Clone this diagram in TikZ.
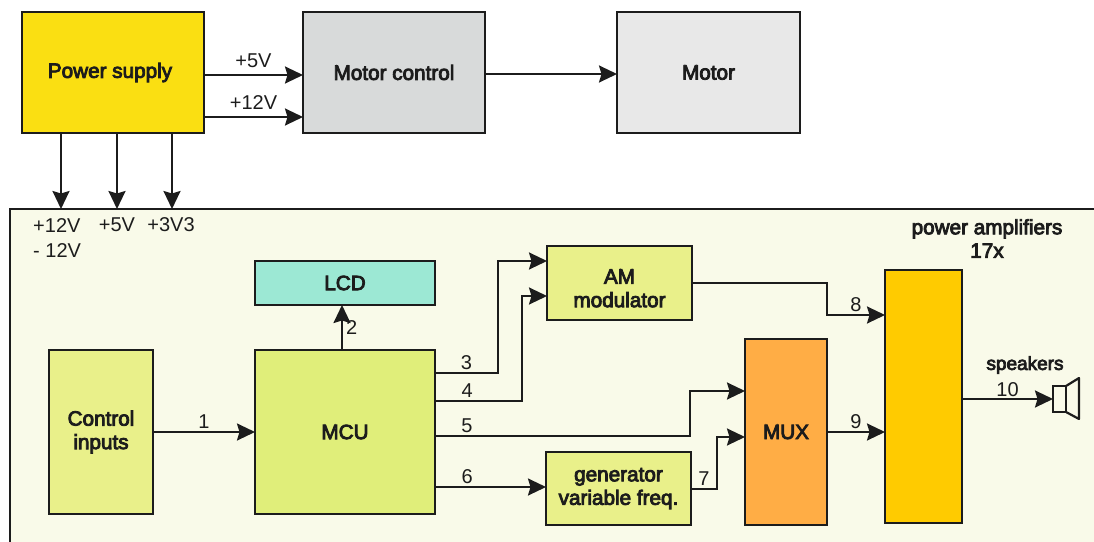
\documentclass[tikz,border=0pt]{standalone}
\usepackage{fontspec}
\setmainfont{Liberation Sans}
\newfontfamily\heavyfont[FakeBold=4]{Liberation Sans}
\usetikzlibrary{arrows.meta,positioning}

\definecolor{inkc}{HTML}{1C1C1C}
\definecolor{supplyc}{HTML}{FADF12}
\definecolor{drivec}{HTML}{D8DADA}
\definecolor{motorc}{HTML}{E8E8E8}
\definecolor{boardc}{HTML}{F9FAE9}
\definecolor{lcdc}{HTML}{9CE8D4}
\definecolor{limec}{HTML}{E9F08A}
\definecolor{mcuc}{HTML}{E0EE7A}
\definecolor{muxc}{HTML}{FFAD45}
\definecolor{ampc}{HTML}{FFCB00}

\begin{document}
\begin{tikzpicture}[
  x=1pt,y=-1pt,
  box/.style={
    draw=inkc,
    line width=2.4pt,
    align=center,
    text=inkc,
    inner sep=0pt,
    outer sep=0pt,
    font=\heavyfont\fontsize{20.7}{23.5}\selectfont
  },
  line/.style={-{Stealth[length=18pt,width=17pt,inset=2.5pt]},line width=2.2pt,draw=inkc},
  tag/.style={text=inkc,inner sep=2pt,font=\fontsize{20}{25}\selectfont},
  boldtag/.style={text=inkc,inner sep=0pt,align=center,font=\heavyfont\fontsize{20.7}{23.5}\selectfont}
]
\useasboundingbox (0,0) rectangle (1094,541);
\clip (0,0) rectangle (1094,541);

\node[box,fill=boardc,minimum width=1120pt,minimum height=370pt,anchor=north west] (board) at (10,209) {};

\node[box,fill=supplyc,minimum width=182pt,minimum height=121pt] (supply) at (113,72.5) {Power supply\hspace*{6pt}};
\node[box,fill=drivec,minimum width=182pt,minimum height=121pt,right=99pt of supply] (drive) {Motor control};
\node[box,fill=motorc,minimum width=183pt,minimum height=121pt,right=132pt of drive] (motor) {Motor};

\node[box,fill=limec,minimum width=104pt,minimum height=164pt] (inputs) at (101,432) {Control\\inputs};
\node[box,fill=mcuc,minimum width=180pt,minimum height=164pt,right=102pt of inputs] (mcu) {MCU};
\node[box,fill=lcdc,minimum width=180pt,minimum height=44pt] (lcd) at (345,283) {LCD};
\node[box,fill=limec,minimum width=145pt,minimum height=74pt] (am) at (619.5,283) {\rule{0pt}{25pt}AM\\modulator};
\node[box,fill=limec,minimum width=145pt,minimum height=73pt] (gen) at (618.5,488.5) {generator\\variable freq.};
\node[box,fill=muxc,minimum width=82pt,minimum height=186pt] (mux) at (786,432) {MUX};
\node[box,fill=ampc,minimum width=77pt,minimum height=253pt] (amp) at (923.5,396.5) {};

\node[tag,anchor=north west,align=left] (rails) at (31,216) {+12V\\- 12V};
\node[tag] (railb) at (117,225) {+5V};
\node[tag] (railc) at (171,225) {+3V3};
\node[boldtag] (amptitle) at (987,238.5) {power amplifiers\\17x};
\node[boldtag,font=\heavyfont\fontsize{19}{22}\selectfont] (spktitle) at (1025,365) {speakers};

% speaker
\node[draw=inkc,line width=2.2pt,minimum width=13pt,minimum height=26pt,inner sep=0pt,outer sep=0pt] (spk) at (1059.5,399) {};
\draw[inkc,line width=2.2pt,line join=round] (spk.north east) -- (1079,378) -- (1079,419) -- (spk.south east);

\draw[line] (supply.east |- 0,75) -- node[tag,above=4pt] {+5V} (drive.west |- 0,75);
\draw[line] (supply.east |- 0,117) -- node[tag,above=4pt] {+12V} (drive.west |- 0,117);
\draw[line] (drive.east |- 0,74) -- (motor.west |- 0,74);

\draw[line] (supply.south -| 61,0) -- (board.north -| 61,0);
\draw[line] (supply.south -| 117,0) -- (board.north -| 117,0);
\draw[line] (supply.south -| 172,0) -- (board.north -| 172,0);

\draw[line] (inputs) -- node[tag,above] {1} (mcu);
\draw[line] (mcu.north -| 342,0) -- node[tag,right,xshift=1pt] {2} (lcd.south -| 342,0);
\draw[line] (mcu.east |- 0,373) -- node[tag,above] {3} (498,373) -- (498,261) -- (am.west |- 0,261);
\draw[line] (mcu.east |- 0,401) -- node[tag,above,pos=.37] {4} (522,401) -- (522,296) -- (am.west |- 0,296);
\draw[line] (mcu.east |- 0,436) -- node[tag,above,pos=.125] {5} (690,436) -- (690,391) -- (mux.west |- 0,391);
\draw[line] (mcu.east |- 0,487) -- node[tag,above,pos=.29] {6} (gen.west |- 0,487);
\draw[line] (gen.east |- 0,489) -- node[tag,above] {7} (717,489) -- (717,437) -- (mux.west |- 0,437);
\draw[line] (am.east) -- (827,283) -- (827,315) -- node[tag,above] {8} (amp.west |- 0,315);
\draw[line] (mux.east) -- node[tag,above] {9} (amp.west |- 0,432);
\draw[line] (amp.east |- 0,399) -- node[tag,above,inner sep=1pt] {10} (spk.west);
\end{tikzpicture}
\end{document}
